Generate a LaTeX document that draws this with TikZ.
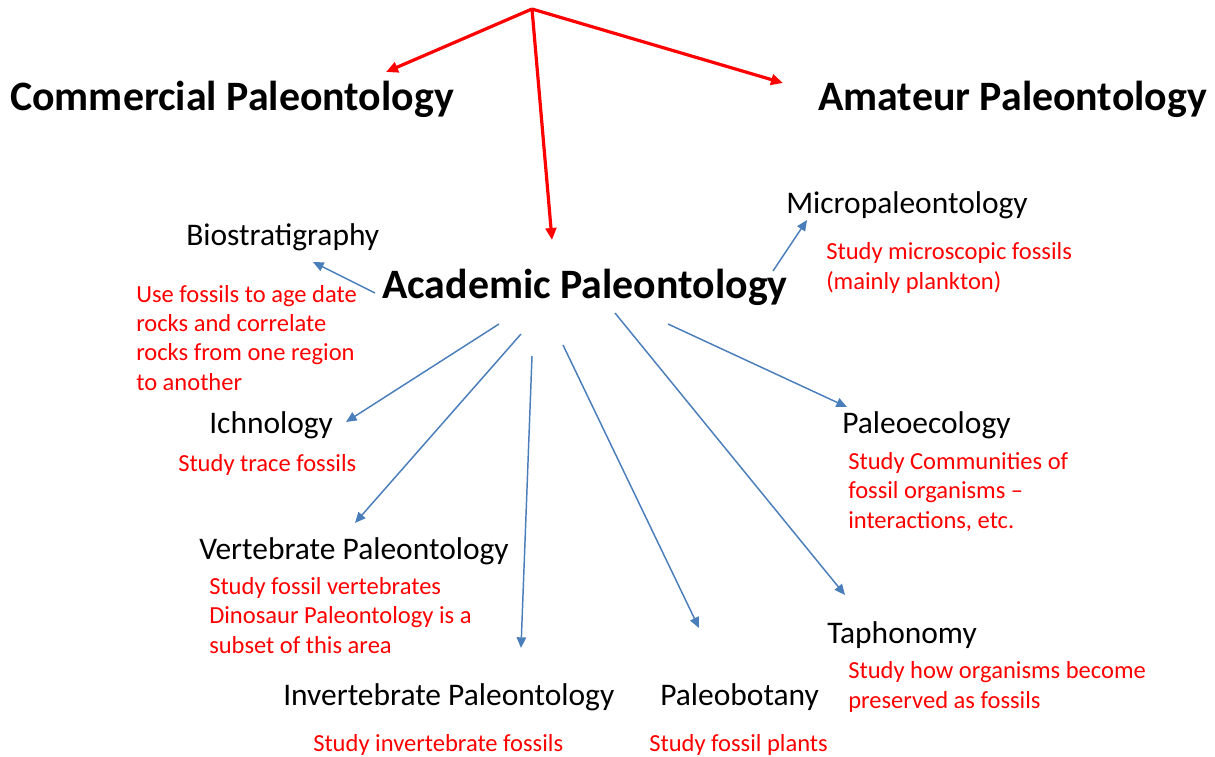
\documentclass[tikz,border=0pt]{standalone}
\usepackage{fontspec}
\setmainfont{Carlito}
\usetikzlibrary{arrows.meta}
\definecolor{arrowblue}{HTML}{4A7EBB}
\tikzset{
  title/.style={anchor=base west, inner sep=0pt, font=\fontsize{31.4}{38}\selectfont\bfseries},
  label/.style={anchor=base west, inner sep=0pt, font=\fontsize{23.6}{29}\selectfont},
  note/.style={anchor=base west, inner sep=0pt, text=red, align=left, font=\fontsize{18.4}{21.8}\selectfont},
  redarrow/.style={draw=red, line width=2.4pt, -{Triangle[length=9pt,width=8pt]}},
  bluearrow/.style={draw=arrowblue, line width=1.1pt, -{Triangle[length=8pt,width=7pt]}}
}
\begin{document}
\begin{tikzpicture}[x=0.75pt,y=-0.75pt]
\useasboundingbox (0,0) rectangle (1215,757);
% titles
\node[title] (comm) at (10,110) {Commercial Paleontology};
\node[title] (amat) at (818,110) {Amateur Paleontology};
\node[title] (acad) at (382,298) {Academic Paleontology};
% labels
\node[label] (bio) at (186,245) {Biostratigraphy};
\node[label] (micro) at (786,213) {Micropaleontology};
\node[label] (ichno) at (209,433) {Ichnology};
\node[label] (vert) at (199,559) {Vertebrate Paleontology};
\node[label] (invert) at (283,705) {Invertebrate Paleontology};
\node[label] (bot) at (660,705) {Paleobotany};
\node[label] (taph) at (827,643) {Taphonomy};
\node[label] (eco) at (842,433) {Paleoecology};
% notes (anchored at the baseline of their last line)
\node[note] (biox) at (136,390) {Use fossils to age date\\rocks and correlate\\rocks from one region\\to another};
\node[note] (microx) at (826,289) {Study microscopic fossils\\(mainly plankton)};
\node[note] (ichnox) at (178,471) {Study trace fossils};
\node[note] (vertx) at (209,653) {Study fossil vertebrates\\Dinosaur Paleontology is a\\subset of this area};
\node[note] (invertx) at (313,751) {Study invertebrate fossils};
\node[note] (botx) at (649,751) {Study fossil plants};
\node[note] (taphx) at (848,708) {Study how organisms become\\preserved as fossils};
\node[note] (ecox) at (848,528) {Study Communities of\\fossil organisms --\\interactions, etc.};
% connector ends
\coordinate (top) at (532,9);
\coordinate (tcomm) at (386,72);
\coordinate (tamat) at (783,83);
\coordinate (tacad) at (552,240);
\coordinate (sbio) at (375,293);   \coordinate (tbio) at (313,262);
\coordinate (smicro) at (773,271); \coordinate (tmicro) at (807,220);
\coordinate (sichno) at (499,324); \coordinate (tichno) at (346,422);
\coordinate (svert) at (521,334);  \coordinate (tvert) at (355,523);
\coordinate (sinv) at (532,356);   \coordinate (tinv) at (521,648);
\coordinate (sbot) at (563,345);   \coordinate (tbot) at (699,628);
\coordinate (staph) at (615,313);  \coordinate (ttaph) at (845,595);
\coordinate (seco) at (668,324);   \coordinate (teco) at (847,407);
% red arrows
\draw[redarrow] (top) -- (tcomm);
\draw[redarrow] (top) -- (tamat);
\draw[redarrow] (top) -- (tacad);
% blue arrows
\draw[bluearrow] (sbio) -- (tbio);
\draw[bluearrow] (smicro) -- (tmicro);
\draw[bluearrow] (sichno) -- (tichno);
\draw[bluearrow] (svert) -- (tvert);
\draw[bluearrow] (sinv) -- (tinv);
\draw[bluearrow] (sbot) -- (tbot);
\draw[bluearrow] (staph) -- (ttaph);
\draw[bluearrow] (seco) -- (teco);
\end{tikzpicture}
\end{document}
